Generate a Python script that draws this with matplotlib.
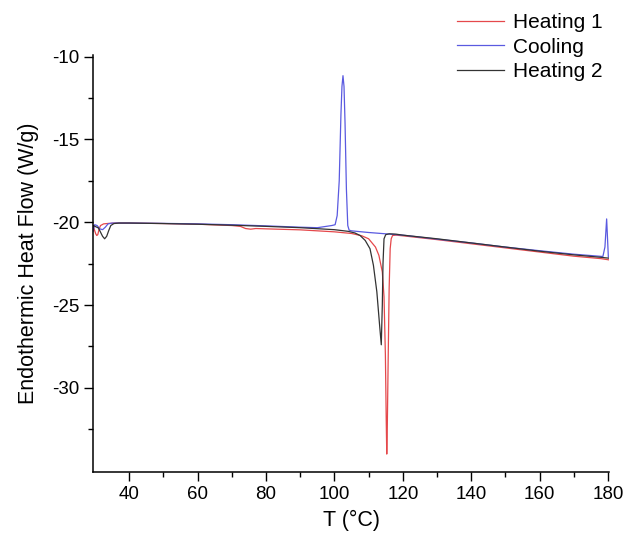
"""DSC thermogram: heating 1 / cooling / heating 2 heat-flow traces vs temperature.

Values read off the reference picture by hand (W/g vs °C). Saves out.png (628x540).
"""
import matplotlib
matplotlib.use("Agg")
import matplotlib.pyplot as plt

# --- Heating 1 (red): melt dip at ~115 °C ---------------------------------------------- #
HEAT1_T = [29.4, 29.8, 30.2, 30.5, 30.8, 31.2, 31.6, 32.5, 34.0, 36.0, 40.0, 50.0, 60.0,
           70.0, 72.5, 74.0, 75.5, 77.0, 80.0, 90.0, 100.0, 105.0, 108.0, 110.0, 112.0,
           113.0, 114.0, 114.5, 114.9, 115.15, 115.3, 115.45, 115.7, 116.0, 116.3, 116.6,
           117.0, 118.0, 120.0, 130.0, 140.0, 150.0, 160.0, 170.0, 178.0, 180.2]
HEAT1_Q = [-20.20, -20.45, -20.70, -20.80, -20.75, -20.40, -20.20, -20.10, -20.07, -20.05,
           -20.05, -20.08, -20.12, -20.20, -20.25, -20.38, -20.42, -20.38, -20.40, -20.46,
           -20.58, -20.68, -20.82, -21.00, -21.50, -22.00, -23.00, -24.50, -28.00, -32.00,
           -34.00, -32.50, -28.50, -24.00, -21.60, -21.00, -20.80, -20.78, -20.82, -21.05,
           -21.30, -21.55, -21.80, -22.05, -22.20, -22.27]

# --- Cooling (blue): crystallisation peak at ~102.5 °C, end spike at ~179.6 °C ----------- #
COOL_T = [29.4, 29.9, 30.6, 31.4, 32.2, 33.0, 33.8, 35.0, 40.0, 50.0, 60.0, 70.0, 80.0,
          90.0, 95.0, 99.2, 100.2, 100.8, 101.4, 101.9, 102.2, 102.5, 102.8, 103.1, 103.5,
          103.9, 104.3, 105.0, 110.0, 120.0, 130.0, 140.0, 150.0, 160.0, 170.0, 178.5,
          179.1, 179.6, 180.1]
COOL_Q = [-20.55, -20.15, -20.20, -20.40, -20.45, -20.30, -20.10, -20.05, -20.05, -20.07,
          -20.10, -20.15, -20.22, -20.30, -20.33, -20.20, -20.15, -19.60, -17.50, -13.50,
          -11.80, -11.15, -11.80, -14.00, -18.00, -20.20, -20.48, -20.52, -20.62, -20.78,
          -21.02, -21.25, -21.50, -21.72, -21.93, -22.07, -21.50, -19.80, -22.10]

# --- Heating 2 (black): broader melt dip at ~113.7 °C ----------------------------------- #
HEAT2_T = [29.4, 30.0, 31.0, 31.6, 32.2, 32.8, 33.4, 34.0, 34.6, 35.5, 37.0, 40.0, 50.0,
           60.0, 70.0, 80.0, 90.0, 100.0, 104.0, 106.0, 107.5, 109.0, 110.4, 111.4, 112.4,
           113.2, 113.7, 114.0, 114.2, 114.5, 115.0, 116.0, 118.0, 120.0, 130.0, 140.0,
           150.0, 160.0, 170.0, 178.0, 180.2]
HEAT2_Q = [-20.20, -20.25, -20.35, -20.60, -20.85, -21.00, -20.85, -20.50, -20.20, -20.08,
           -20.05, -20.05, -20.08, -20.12, -20.18, -20.25, -20.33, -20.45, -20.55, -20.65,
           -20.80, -21.10, -21.60, -22.60, -24.20, -26.20, -27.40, -25.00, -22.50, -21.00,
           -20.75, -20.70, -20.72, -20.78, -21.00, -21.25, -21.50, -21.75, -21.97, -22.12,
           -22.17]

SERIES = [
    ("Heating 1", HEAT1_T, HEAT1_Q, "#e5484b"),
    ("Cooling", COOL_T, COOL_Q, "#5a5ae0"),
    ("Heating 2", HEAT2_T, HEAT2_Q, "#333333"),
]

X_LIM = (29.4, 180.3)
Y_LIM = (-35.1, -9.9)
X_MAJOR = [40, 60, 80, 100, 120, 140, 160, 180]
X_MINOR = [50, 70, 90, 110, 130, 150, 170]
Y_MAJOR = [-30, -25, -20, -15, -10]
Y_MINOR = [-32.5, -27.5, -22.5, -17.5, -12.5]


def main() -> None:
    plt.rcParams["font.family"] = ["Liberation Sans", "DejaVu Sans"]
    plt.rcParams["axes.unicode_minus"] = False     # plain hyphen on the tick labels

    fig = plt.figure(figsize=(6.28, 5.40), dpi=100)
    ax = fig.add_axes([0.1481, 0.1254, 0.8217, 0.7728])

    for label, t, q, color in SERIES:
        ax.plot(t, q, color=color, lw=0.9, label=label)

    ax.set_xlim(*X_LIM)
    ax.set_ylim(*Y_LIM)
    ax.set_xticks(X_MAJOR)
    ax.set_xticks(X_MINOR, minor=True)
    ax.set_yticks(Y_MAJOR)
    ax.set_yticks(Y_MINOR, minor=True)

    for side in ("top", "right"):
        ax.spines[side].set_visible(False)
    for side in ("left", "bottom"):
        ax.spines[side].set_linewidth(1.1)
    ax.tick_params(which="major", direction="out", length=6.5, width=1.0, labelsize=13.5)
    ax.tick_params(which="minor", direction="out", length=3.6, width=1.0)

    ax.set_xlabel("T (°C)", fontsize=15.5, labelpad=5)
    ax.set_ylabel("Endothermic Heat Flow (W/g)", fontsize=15.5, labelpad=9)

    fig.legend(loc="upper left", bbox_to_anchor=(0.727, 0.976), frameon=False,
               fontsize=15, handlelength=2.3, handletextpad=0.4, labelspacing=0.27,
               borderpad=0.0, borderaxespad=0.0)

    fig.savefig("out.png", dpi=100)


if __name__ == "__main__":
    main()
